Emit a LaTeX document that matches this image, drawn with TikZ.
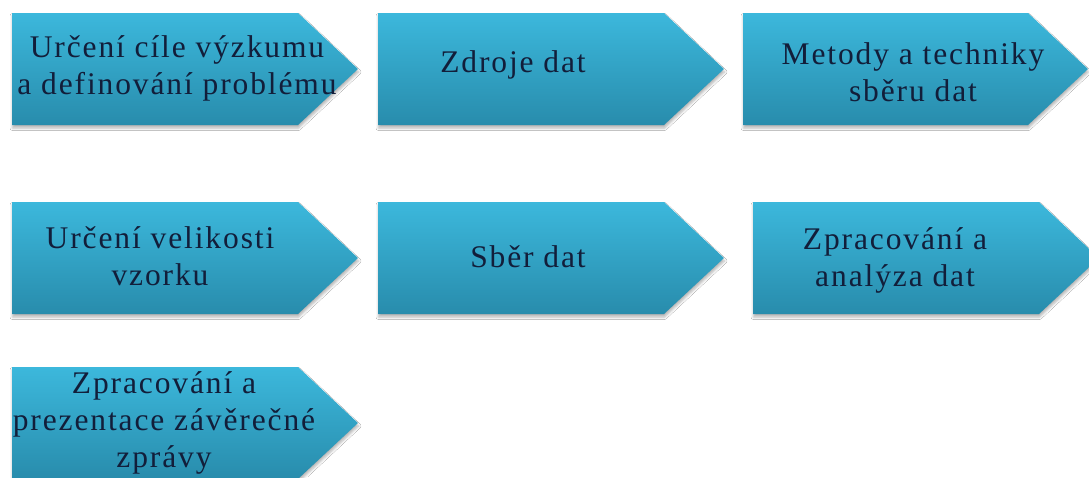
\documentclass[tikz,border=0pt]{standalone}
\usepackage{fontspec}
\setmainfont{Liberation Serif}[LetterSpace=6]
\usetikzlibrary{shadows.blur}
\definecolor{boxtop}{RGB}{60,184,220}
\definecolor{boxbot}{RGB}{40,140,172}
\definecolor{ink}{RGB}{18,30,58}
\begin{document}
\begin{tikzpicture}[x=1pt,y=-1pt,
  homebox/.style={top color=boxtop, bottom color=boxbot, draw=none,
    blur shadow={shadow xshift=0.5pt, shadow yshift=-3pt, shadow blur radius=2.5pt, shadow opacity=30}},
  label/.style={text=ink, font=\fontsize{31.5}{37}\selectfont, align=center, inner sep=0pt}]
\useasboundingbox (0,0) rectangle (1089,477);
\clip (0,0) rectangle (1089,477);
\fill[white] (0,0) rectangle (1089,477);
% row 1
\path[homebox] (12,13) -- (298,13) -- (358,69) -- (298,125) -- (12,125) -- cycle;
\path[homebox] (378,13) -- (664,13) -- (724,69) -- (664,125) -- (378,125) -- cycle;
\path[homebox] (743,13) -- (1028,13) -- (1088,69) -- (1028,125) -- (743,125) -- cycle;
% row 2
\path[homebox] (12,202) -- (298,202) -- (358,258) -- (298,314) -- (12,314) -- cycle;
\path[homebox] (378,202) -- (664,202) -- (724,258) -- (664,314) -- (378,314) -- cycle;
\path[homebox] (753,202) -- (1039,202) -- (1099,258) -- (1039,314) -- (753,314) -- cycle;
% row 3
\path[homebox] (12,367) -- (298,367) -- (358,423) -- (298,479) -- (12,479) -- cycle;
% texts
\node[label] (t1) at (177,68) {Určení cíle výzkumu\\a definování problému};
\node[label] (t2) at (513,65) {Zdroje dat};
\node[label] (t3) at (913,72) {Metody a techniky\\sběru dat};
\node[label] (t4) at (160,256) {Určení velikosti\\vzorku};
\node[label] (t5) at (528,257) {Sběr dat};
\node[label] (t6) at (895,260) {Zpracování a\\analýza dat};
\node[label] (t7) at (164,423) {Zpracování a\\prezentace závěrečné\\zprávy};
\end{tikzpicture}
\end{document}
